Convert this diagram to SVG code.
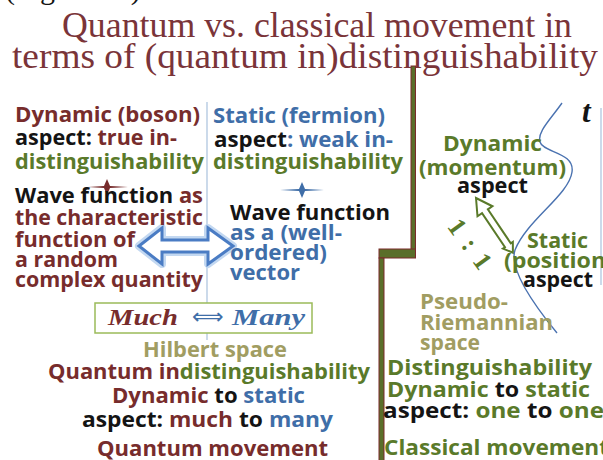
<svg xmlns="http://www.w3.org/2000/svg" width="603" height="460" viewBox="0 0 603 460">
<style>
.t{font-family:"Open Sans","Liberation Sans",sans-serif;font-weight:700;font-size:21px}
.m{fill:#772c2c}.g{fill:#5a7a2a}.b{fill:#3f6ea8}.k{fill:#141414}.h{fill:#a19d62}
.title{font-family:"Liberation Serif",serif;font-size:35px;fill:#7a3439}
.mm{font-family:"Liberation Serif",serif;font-weight:700;font-style:italic;font-size:23px}
.thin{stroke:#a9c1dd;stroke-width:1.2;fill:none}
.div{fill:#5a6e2a;stroke:#7a2a2a;stroke-width:1}
</style>
<rect width="603" height="460" fill="#ffffff"/>

<g id="caption">
<text x="5" y="-1" font-family="Liberation Serif, serif" font-size="30" fill="#141414">(Figure 12)</text>
</g>

<g id="title">
<text class="title" x="62" y="37" textLength="510" lengthAdjust="spacingAndGlyphs">Quantum vs. classical movement in</text>
<text class="title" x="12" y="68" textLength="586" lengthAdjust="spacingAndGlyphs">terms of (quantum in)distinguishability</text>
</g>

<g id="dividers">
<line class="thin" x1="207" y1="102" x2="207" y2="340"/>
<line class="thin" x1="601" y1="108" x2="601" y2="285"/>
<rect class="div" x="411" y="66" width="4.5" height="188"/>
<rect class="div" x="379" y="249" width="36.5" height="9"/>
<rect class="div" x="379" y="258" width="5" height="204"/>
</g>

<g id="connectors">
<path d="M139,246 L162,228 L162,240 L208,240 L208,228 L233,246 L208,264 L208,252 L162,252 L162,264 Z" fill="none" stroke="#c3d8f1" stroke-width="8" stroke-linejoin="round"/>
<path d="M139,246 L162,228 L162,240 L208,240 L208,228 L233,246 L208,264 L208,252 L162,252 L162,264 Z" fill="#ffffff" stroke="#4a7cc4" stroke-width="3" stroke-linejoin="miter"/>
<path transform="translate(476,198) rotate(56)" d="M0,0 L16,-9 L16,-3.5 L57,-3.5 L57,-6 L66,0 L57,6 L57,3.5 L16,3.5 L16,9 Z" fill="#ffffff" stroke="#5a7a2a" stroke-width="2" stroke-linejoin="miter"/>
<path d="M562,103 C550,120 537,132 540,142 C543,153 575,152 572,172 C569,195 527,220 515,250 C509,268 530,300 557,333" fill="none" stroke="#4a72b0" stroke-width="1.4"/>
</g>

<g id="dynamic-boson">
<text class="t m" x="15" y="122" textLength="185" lengthAdjust="spacingAndGlyphs">Dynamic (boson)</text>
<text class="t" x="15" y="145" textLength="162" lengthAdjust="spacingAndGlyphs"><tspan class="k">aspect:</tspan><tspan class="m"> true in-</tspan></text>
<text class="t g" x="15" y="169" textLength="189" lengthAdjust="spacingAndGlyphs">distinguishability</text>
<path d="M88,187 L104,186 L107,179 L110,186 L128,187 L110,188 L107,195 L104,188 Z" fill="#772c2c"/>
<text class="t" x="15" y="203" textLength="188" lengthAdjust="spacingAndGlyphs"><tspan class="k">Wave function</tspan><tspan class="m"> as</tspan></text>
<text class="t m" x="15" y="225" textLength="188" lengthAdjust="spacingAndGlyphs">the characteristic</text>
<text class="t m" x="15" y="247" textLength="120" lengthAdjust="spacingAndGlyphs">function of</text>
<text class="t m" x="15" y="267" textLength="103" lengthAdjust="spacingAndGlyphs">a random</text>
<text class="t m" x="15" y="287" textLength="188" lengthAdjust="spacingAndGlyphs">complex quantity</text>
</g>

<g id="static-fermion">
<text class="t b" x="213" y="123" textLength="172" lengthAdjust="spacingAndGlyphs">Static (fermion)</text>
<text class="t" x="214" y="147" textLength="179" lengthAdjust="spacingAndGlyphs"><tspan class="k">aspect</tspan><tspan class="b">: weak in-</tspan></text>
<text class="t g" x="213" y="169" textLength="190" lengthAdjust="spacingAndGlyphs">distinguishability</text>
<path d="M280,190 L299,189 L302,182 L305,189 L324,190 L305,191 L302,198 L299,191 Z" fill="#3f6ea8"/>
<text class="t k" x="230" y="220" textLength="160" lengthAdjust="spacingAndGlyphs">Wave function</text>
<text class="t b" x="230" y="240" textLength="112" lengthAdjust="spacingAndGlyphs">as a (well-</text>
<text class="t b" x="230" y="260" textLength="97" lengthAdjust="spacingAndGlyphs">ordered)</text>
<text class="t b" x="230" y="280" textLength="70" lengthAdjust="spacingAndGlyphs">vector</text>
</g>

<g id="much-many">
<rect x="95" y="303" width="217" height="30" fill="#ffffff" stroke="#9bbb59" stroke-width="1.5"/>
<text class="mm" x="108" y="325" fill="#772c2c" textLength="70" lengthAdjust="spacingAndGlyphs">Much</text>
<text x="192" y="324" font-family="DejaVu Sans, sans-serif" font-size="22" fill="#3f6ea8">⟺</text>
<text class="mm" x="232" y="325" fill="#3f6ea8" textLength="73" lengthAdjust="spacingAndGlyphs">Many</text>
</g>

<g id="quantum">
<text class="t h" x="143" y="357" textLength="144" lengthAdjust="spacingAndGlyphs">Hilbert space</text>
<text class="t" x="48" y="379" textLength="322" lengthAdjust="spacingAndGlyphs"><tspan class="m">Quantum in</tspan><tspan class="g">distinguishability</tspan></text>
<text class="t" x="112" y="403" textLength="193" lengthAdjust="spacingAndGlyphs"><tspan class="m">Dynamic</tspan><tspan class="k"> to </tspan><tspan class="b">static</tspan></text>
<text class="t" x="82" y="427" textLength="251" lengthAdjust="spacingAndGlyphs"><tspan class="k">aspect: </tspan><tspan class="m">much</tspan><tspan class="k"> to </tspan><tspan class="b">many</tspan></text>
<text class="t m" x="97" y="456" textLength="231" lengthAdjust="spacingAndGlyphs">Quantum movement</text>
</g>

<g id="dynamic-momentum">
<text class="t g" x="443" y="151" textLength="99" lengthAdjust="spacingAndGlyphs">Dynamic</text>
<text class="t g" x="419" y="175" textLength="147" lengthAdjust="spacingAndGlyphs">(momentum)</text>
<text class="t k" x="457" y="193" textLength="71" lengthAdjust="spacingAndGlyphs">aspect</text>
</g>

<g id="ratio">
<text transform="translate(470,245) rotate(54)" x="0" y="8" text-anchor="middle" font-family="Liberation Serif, serif" font-weight="700" font-size="26" letter-spacing="2" fill="#5a7a2a">1 : 1</text>
</g>

<g id="static-position">
<text class="t g" x="527" y="248" textLength="61" lengthAdjust="spacingAndGlyphs">Static</text>
<text class="t g" x="504" y="268" textLength="110" lengthAdjust="spacingAndGlyphs">(position)</text>
<text class="t k" x="523" y="287" textLength="70" lengthAdjust="spacingAndGlyphs">aspect</text>
</g>

<g id="time">
<text x="582" y="122" font-family="Liberation Serif, serif" font-weight="700" font-style="italic" font-size="31" fill="#141414">t</text>
</g>

<g id="classical">
<text class="t h" x="420" y="309" textLength="88" lengthAdjust="spacingAndGlyphs">Pseudo-</text>
<text class="t h" x="420" y="330" textLength="133" lengthAdjust="spacingAndGlyphs">Riemannian</text>
<text class="t h" x="420" y="350" textLength="60" lengthAdjust="spacingAndGlyphs">space</text>
<text class="t g" x="387" y="375" textLength="205" lengthAdjust="spacingAndGlyphs">Distinguishability</text>
<text class="t" x="387" y="397" textLength="203" lengthAdjust="spacingAndGlyphs"><tspan class="g">Dynamic</tspan><tspan class="k"> to </tspan><tspan class="g">static</tspan></text>
<text class="t" x="383" y="418" textLength="221" lengthAdjust="spacingAndGlyphs"><tspan class="k">aspect: </tspan><tspan class="g">one</tspan><tspan class="k"> to </tspan><tspan class="g">one</tspan></text>
<text class="t g" x="384" y="455" textLength="225" lengthAdjust="spacingAndGlyphs">Classical movement</text>
</g>
</svg>
